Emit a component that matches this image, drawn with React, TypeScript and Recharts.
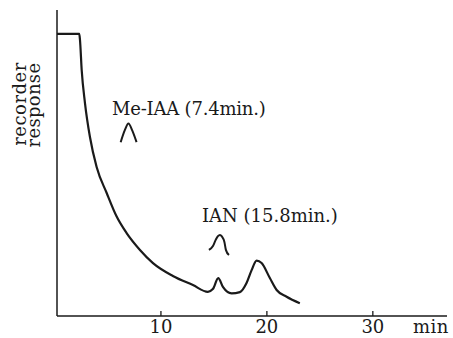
import React from "react";
import { LineChart, Line, XAxis, YAxis, Customized } from "recharts";

// Chromatogram trace (time in min, recorder response in arbitrary units 0-100)
const timeMin = [0.19, 2.29, 2.36, 2.52, 2.83, 3.3, 3.93, 4.88, 5.82, 6.76, 8.02, 9.25, 11.13, 13.02, 14.43, 14.9, 15.41, 15.85, 16.67, 17.45, 18.08, 18.56, 19.03, 19.5, 20.28, 20.92, 21.86, 23.11];
const response = [92.2, 92.2, 90.2, 80.4, 69.6, 58.5, 48.7, 40.2, 32.5, 27.1, 21.6, 17.3, 13.1, 10.1, 7.9, 8.8, 12.4, 9.5, 7.4, 7.8, 10.8, 15.0, 18.1, 17.3, 12.4, 8.5, 6.3, 4.2];

// Reference peak shapes drawn under the labels
const meIaaT = [6.2, 6.6, 6.93, 7.3, 7.7];
const meIaaV = [56.8, 60.8, 62.9, 60.6, 56.8];
const ianT = [14.53, 14.91, 15.16, 15.38, 15.57, 15.75, 15.99, 16.13, 16.42];
const ianV = [21.6, 22.9, 24.8, 26.1, 26.5, 26.0, 24.2, 21.6, 19.9];

const xTicks = [10, 20, 30];
const xUnit = "min";
const yLabelLines = ["recorder", "response"];
const peakLabels = ["Me-IAA (7.4min.)", "IAN (15.8min.)"];

const trace = timeMin.map((t, i) => ({ t, v: response[i] }));
const meIaaShape = meIaaT.map((t, i) => ({ t, v: meIaaV[i] }));
const ianShape = ianT.map((t, i) => ({ t, v: ianV[i] }));

const FONT = "DejaVu Serif";
const INK = "#1a1a1a";
const txt = { fontFamily: FONT, fontSize: 18, fill: INK } as React.CSSProperties;

const Tick = (props: any) => {
  const { x, y, payload } = props;
  return (
    <g>
      <line x1={x} y1={y} x2={x} y2={y - 5} stroke={INK} strokeWidth={1.3} />
      <text x={x} y={y + 17} textAnchor="middle" style={txt}>
        {payload.value}
      </text>
    </g>
  );
};

const Annotations = () => (
  <g>
    <text x={26} y={104} style={{ ...txt, letterSpacing: 0.5 }} textAnchor="middle" transform="rotate(-90 26 104)">
      {yLabelLines[0]}
    </text>
    <text x={40} y={105} style={{ ...txt, letterSpacing: 0.3 }} textAnchor="middle" transform="rotate(-90 40 105)">
      {yLabelLines[1]}
    </text>
    <text x={112} y={115} style={{ ...txt, letterSpacing: -0.2 }}>{peakLabels[0]}</text>
    <text x={202} y={222} style={txt}>{peakLabels[1]}</text>
    <text x={413} y={333} style={{ ...txt, letterSpacing: 0.5 }}>{xUnit}</text>
  </g>
);

export default function App() {
  return (
    <div style={{ position: "absolute", left: 0, top: 0, background: "#fff" }}>
      <LineChart width={453} height={338} margin={{ top: 10, right: 6, bottom: 0, left: 0 }}>
        <XAxis
          type="number"
          dataKey="t"
          domain={[0.19, 37]}
          ticks={xTicks}
          allowDataOverflow
          height={22}
          tickSize={0}
          tickMargin={0}
          tickLine={false}
          axisLine={{ stroke: INK, strokeWidth: 1.5 }}
          tick={<Tick />}
        />
        <YAxis
          type="number"
          domain={[0, 100]}
          width={57}
          tick={false}
          tickLine={false}
          axisLine={{ stroke: INK, strokeWidth: 1.5 }}
        />
        <Line data={trace} dataKey="v" type="monotone" stroke={INK} strokeWidth={2.2} dot={false} isAnimationActive={false} />
        <Line data={meIaaShape} dataKey="v" type="monotone" stroke={INK} strokeWidth={2} dot={false} isAnimationActive={false} />
        <Line data={ianShape} dataKey="v" type="monotone" stroke={INK} strokeWidth={2} dot={false} isAnimationActive={false} />
        <Customized component={Annotations} />
      </LineChart>
    </div>
  );
}
